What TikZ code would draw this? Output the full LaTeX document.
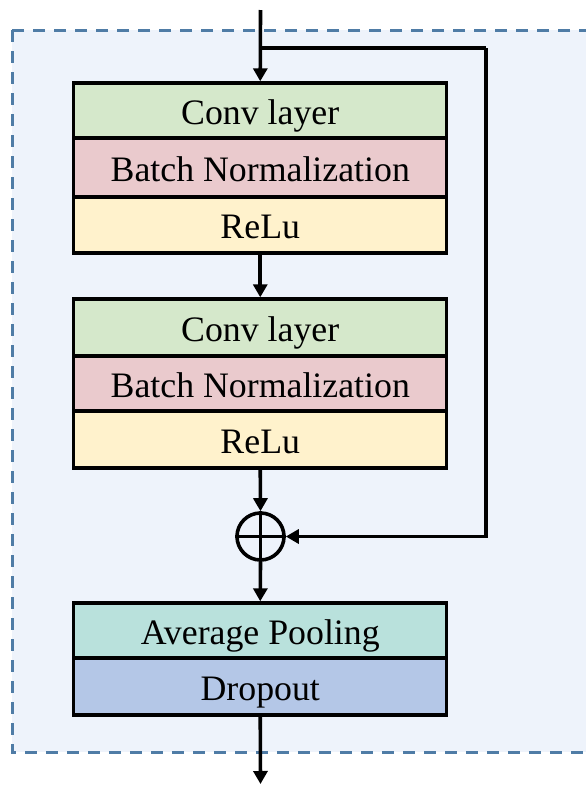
\documentclass[tikz,border=0pt]{standalone}
\usepackage{fontspec}
\setmainfont{Liberation Serif}
\usetikzlibrary{arrows.meta}
\definecolor{panelbg}{HTML}{EEF3FB}
\definecolor{panelline}{HTML}{4F7CA6}
\definecolor{convc}{HTML}{D5E8CB}
\definecolor{bnc}{HTML}{EACACD}
\definecolor{reluc}{HTML}{FFF2CC}
\definecolor{poolc}{HTML}{B9E1DC}
\definecolor{dropc}{HTML}{B4C7E7}
\tikzset{
  layer/.style={draw=black, line width=3.4pt, minimum width=373pt, inner sep=0pt,
    text height=27pt, text depth=0pt,
    font=\fontsize{35.8}{40}\selectfont},
  arr/.style={line width=3.6pt, -{Triangle[width=14pt,length=13pt]}},
  link/.style={line width=3.6pt},
  addop/.style={circle, draw=black, line width=3.6pt, minimum size=47pt, inner sep=0pt},
}
\begin{document}
\begin{tikzpicture}[x=1pt,y=-1pt]
  \useasboundingbox (0,0) rectangle (586,785);
  \clip (0,0) rectangle (586,785);
  % residual block panel
  \draw[panelline, fill=panelbg, line width=3pt, dash pattern=on 12pt off 9pt]
    (12,30) rectangle (640,752);

  % first conv block
  \node[layer, fill=convc, minimum height=55pt] (c1) at (260.25,110.5) {Conv layer};
  \node[layer, fill=bnc,   minimum height=59pt] (b1) at (260.25,167.5) {Batch Normalization};
  \node[layer, fill=reluc, minimum height=56pt] (r1) at (260.25,225) {ReLu};

  % second conv block
  \node[layer, fill=convc, minimum height=57pt] (c2) at (260.25,327.5) {Conv layer};
  \node[layer, fill=bnc,   minimum height=55pt] (b2) at (260.25,383.5) {Batch Normalization};
  \node[layer, fill=reluc, minimum height=57pt] (r2) at (260.25,439.5) {ReLu};

  % elementwise sum
  \node[addop] (add) at (260.5,536.5) {};
  \draw[link] (add.north) -- (add.south) (add.west) -- (add.east);

  % pooling and dropout
  \node[layer, fill=poolc, minimum height=55pt] (p1) at (260.25,630.5) {Average Pooling};
  \node[layer, fill=dropc, minimum height=57pt] (d1) at (260.25,686.5) {Dropout};

  % connectors
  \coordinate (in) at (260.5,10);
  \coordinate (split) at (260.5,48);
  \coordinate (skip) at (486,48);
  \coordinate (out) at (260.5,784);
  \draw[arr] (in) -- (c1.north);
  \draw[link] (split) -- (skip);
  \draw[arr] (skip) |- (add.east);
  \draw[arr] (r1.south) -- (c2.north);
  \draw[arr] (r2.south) -- (add.north);
  \draw[arr] (add.south) -- (p1.north);
  \draw[arr] (d1.south) -- (out);
\end{tikzpicture}
\end{document}
